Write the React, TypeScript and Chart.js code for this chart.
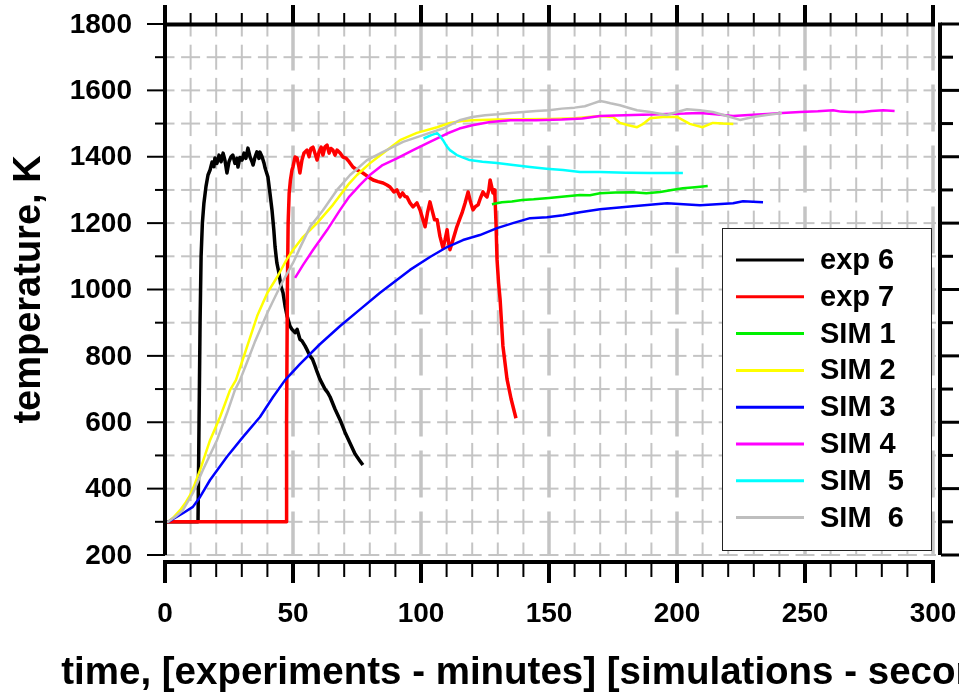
import { useEffect, useRef } from 'react';
import { Chart, registerables } from 'chart.js';

Chart.register(...registerables);

const FONT = '"Liberation Sans", Arial, Helvetica, sans-serif';

// ---------- axis ticks ----------
const xTickValues = [0, 50, 100, 150, 200, 250, 300];
const xTickLabels = ['0', '50', '100', '150', '200', '250', '300'];
const yTickValues = [200, 400, 600, 800, 1000, 1200, 1400, 1600, 1800];
const yTickLabels = ['200', '400', '600', '800', '1000', '1200', '1400', '1600', '1800'];

const xTitle = 'time, [experiments - minutes] [simulations - seconds]';
const yTitle = 'temperature, K';

// ---------- series ----------
const seriesNames = ['exp 6', 'exp 7', 'SIM 1', 'SIM 2', 'SIM 3', 'SIM 4', 'SIM  5', 'SIM  6'];

const exp6Time = [0, 12.9, 13.3, 13.7, 14.1, 14.6, 15.2, 16.0, 16.8, 17.6, 18.4, 19.1, 19.5, 20.3, 21.1, 21.9, 22.7, 23.4, 24.2, 25.0, 25.8, 26.5, 27.3, 28.1, 28.5, 29.3, 30.1, 30.9, 31.6, 32.4, 33.2, 34.0, 34.4, 35.2, 35.9, 36.7, 37.1, 37.9, 38.7, 39.1, 40.2, 41.0, 41.8, 42.5, 43.0, 43.7, 44.5, 45.3, 46.1, 46.9, 47.7, 48.8, 49.6, 50.8, 51.6, 52.7, 53.5, 54.7, 55.7, 56.6, 57.6, 58.6, 59.5, 60.5, 61.5, 62.5, 63.5, 64.5, 66.4, 68.4, 70.3, 72.3, 74.2, 76.0, 77.3];
const exp6Temp = [300, 300, 600, 900, 1100, 1200, 1260, 1310, 1345, 1360, 1384, 1370, 1396, 1380, 1405, 1385, 1411, 1390, 1351, 1385, 1400, 1405, 1380, 1395, 1369, 1398, 1390, 1411, 1395, 1426, 1400, 1385, 1375, 1400, 1415, 1395, 1414, 1400, 1380, 1366, 1339, 1290, 1239, 1180, 1128, 1080, 1050, 1010, 990, 950, 920, 890, 880, 870, 880, 850, 845, 830, 815, 800, 790, 770, 750, 730, 715, 700, 690, 676, 640, 607, 570, 537, 505, 485, 471];

const exp7Time = [0, 47.3, 47.5, 47.8, 48.1, 48.5, 49.0, 49.6, 50.0, 50.8, 51.6, 52.3, 52.7, 53.5, 54.3, 55.5, 56.3, 57.0, 57.8, 58.6, 59.4, 60.2, 61.0, 61.7, 62.5, 63.3, 64.1, 64.8, 65.6, 66.4, 67.2, 68.4, 69.5, 70.7, 71.9, 73.4, 75.0, 77.3, 79.3, 81.3, 83.2, 85.2, 86.7, 87.9, 89.4, 90.6, 91.8, 92.8, 93.75, 94.5, 95.7, 96.9, 98.4, 99.6, 100.6, 101.6, 102.5, 103.5, 104.3, 105.3, 106.3, 107.4, 108.6, 109.4, 110.2, 110.8, 111.3, 112.5, 114.0, 115.0, 116.0, 117.2, 118.4, 119.3, 120.3, 121.3, 122.3, 123.2, 124.2, 125.0, 125.8, 126.5, 127.0, 127.6, 128.1, 128.6, 128.9, 129.3, 129.7, 130.3, 130.9, 132.0, 133.6, 135.2, 137.1];
const exp7Temp = [300, 300, 600, 1000, 1200, 1290, 1330, 1360, 1370, 1399, 1396, 1370, 1351, 1390, 1411, 1420, 1400, 1425, 1429, 1410, 1390, 1415, 1429, 1405, 1430, 1435, 1411, 1425, 1420, 1405, 1420, 1411, 1399, 1396, 1385, 1369, 1360, 1351, 1340, 1330, 1325, 1321, 1315, 1309, 1294, 1300, 1279, 1291, 1280, 1279, 1261, 1249, 1261, 1240, 1215, 1189, 1230, 1264, 1240, 1210, 1210, 1160, 1125, 1150, 1180, 1140, 1120, 1150, 1189, 1210, 1230, 1260, 1294, 1265, 1240, 1250, 1255, 1275, 1294, 1285, 1279, 1300, 1330, 1310, 1291, 1300, 1280, 1200, 1090, 1020, 970, 830, 730, 670, 612];

const sim1Time = [127.7, 131.6, 135.5, 139.5, 144, 150, 156, 162.1, 166, 169.9, 176, 182.8, 188, 193.4, 198, 202.3, 207, 212];
const sim1Temp = [1257, 1263, 1265, 1270, 1272, 1276, 1280, 1285, 1284, 1290, 1292, 1293, 1290, 1294, 1300, 1305, 1308, 1312];

const sim2Time = [0, 1.2, 3.5, 5.9, 7.8, 9.8, 11.7, 13.7, 15.6, 17.6, 19.5, 21.5, 23.4, 25.4, 27.7, 30, 33, 36, 40, 44, 47.5, 50, 53.9, 59.4, 65.6, 69, 72, 75, 80, 85, 91.8, 98.4, 106.3, 111.3, 116, 120, 130, 140, 150, 160, 169.9, 175, 177.7, 181, 184.4, 187, 189.5, 194.5, 200, 205, 210, 214, 218, 222];
const sim2Temp = [300, 300, 315, 335, 355, 380, 415, 456, 500, 546, 580, 616, 655, 697, 727, 780, 850, 920, 990, 1040, 1090, 1119, 1158, 1200, 1255, 1290, 1320, 1345, 1380, 1410, 1450, 1472, 1489, 1502, 1508, 1510, 1512, 1513, 1514, 1516, 1523, 1520, 1502, 1495, 1489, 1500, 1516, 1520, 1520, 1499, 1489, 1502, 1500, 1499];

const sim3Time = [0, 1.2, 7.0, 10.9, 13.7, 17.6, 24.2, 30.5, 37.1, 42.2, 46.9, 52.7, 60.5, 68.4, 76.2, 84.0, 95.7, 103.5, 110.2, 116.4, 123.0, 129.7, 135.9, 142.6, 149.2, 155.5, 162.1, 169.9, 182.8, 196.1, 209, 221.9, 225.8, 233.6];
const sim3Temp = [300, 300, 326, 345, 375, 426, 496, 556, 616, 676, 727, 775, 835, 890, 940, 990, 1059, 1098, 1128, 1149, 1164, 1185, 1200, 1215, 1218, 1224, 1233, 1242, 1251, 1260, 1254, 1260, 1266, 1263];

const sim4Time = [50.8, 54, 57.8, 63.3, 68.4, 72, 76.2, 80, 85, 90.6, 96.9, 103.5, 110.2, 115, 120, 127, 135, 145, 155, 163, 169.9, 176, 182.8, 190, 196.1, 203, 209, 215, 221.9, 228, 235.2, 241, 248, 255, 261, 264, 267.6, 272.7, 276, 280.5, 285];
const sim4Temp = [1035, 1075, 1119, 1179, 1240, 1280, 1315, 1345, 1375, 1395, 1420, 1445, 1470, 1485, 1495, 1505, 1510, 1510, 1512, 1515, 1523, 1524, 1526, 1527, 1529, 1530, 1532, 1528, 1523, 1526, 1529, 1532, 1535, 1537, 1540, 1536, 1535, 1535, 1538, 1540, 1538];

const sim5Time = [101, 104, 106.3, 107.5, 108.6, 110, 111.3, 114, 119, 124, 129.7, 136, 142.6, 149, 155.5, 162.1, 169.9, 180, 189.5, 196, 202.3];
const sim5Temp = [1455, 1465, 1471, 1462, 1450, 1432, 1420, 1405, 1390, 1385, 1381, 1375, 1369, 1364, 1360, 1354, 1354, 1352, 1351, 1351, 1351];

const sim6Time = [0, 1.2, 4, 7, 10.9, 14.8, 20.3, 24.2, 27.3, 29.3, 32, 35, 40, 45, 50, 53, 56.6, 61.7, 67.2, 72.3, 78.9, 85.2, 93, 100.8, 108.6, 115, 120, 125, 130, 135, 140, 145, 150, 155, 160, 164, 167, 170, 172, 174, 177.7, 181.6, 184.4, 189.5, 196, 200, 203.9, 209, 214, 219.5, 224.6, 229.7, 235, 241];
const sim6Temp = [300, 300, 315, 335, 387, 456, 546, 627, 697, 727, 780, 840, 930, 1010, 1080, 1130, 1188, 1239, 1300, 1345, 1390, 1415, 1445, 1465, 1485, 1510, 1520, 1525, 1528, 1532, 1535, 1538, 1540, 1545, 1548, 1552, 1560, 1568, 1565, 1561, 1555, 1546, 1540, 1535, 1526, 1535, 1543, 1540, 1535, 1523, 1511, 1520, 1526, 1532];

const seriesColors = ['#000000', '#ff0000', '#00f000', '#ffff00', '#0000ff', '#ff00ff', '#00ffff', '#bebebe'];
const seriesWidths = [3.5, 3.5, 2.5, 2.5, 2.5, 2.5, 2.5, 2.5];

const allTimes = [exp6Time, exp7Time, sim1Time, sim2Time, sim3Time, sim4Time, sim5Time, sim6Time];
const allTemps = [exp6Temp, exp7Temp, sim1Temp, sim2Temp, sim3Temp, sim4Temp, sim5Temp, sim6Temp];

const zip = (t: number[], v: number[]) => t.map((x, i) => ({ x, y: v[i] }));

// ---------- custom drawing: grid, offset frame, tick labels, titles, legend ----------
const GRID = '#c4c4c4';

const framePlugin = {
  id: 'frame',
  beforeDatasetsDraw(chart: any) {
    const { ctx, chartArea, scales } = chart;
    const { left, right, top, bottom } = chartArea;
    const xs = scales.x;
    const ys = scales.y;
    ctx.save();
    ctx.beginPath();
    ctx.rect(left, top, right - left + 3, bottom - top + 1);
    ctx.clip();
    ctx.strokeStyle = GRID;
    ctx.lineCap = 'butt';
    ctx.lineWidth = 2;
    for (let h = ys.min; h < ys.max; h += 100) {
      const yc = ys.getPixelForValue(h);
      for (let v = xs.min; v <= xs.max; v += 10) {
        const xc = xs.getPixelForValue(v);
        ctx.beginPath();
        ctx.moveTo(xc - 9.5, yc);
        ctx.lineTo(xc + 9.5, yc);
        ctx.stroke();
      }
    }
    for (let v = xs.min + 10; v < xs.max; v += 10) {
      if (v % 50 === 0) continue;
      const xc = xs.getPixelForValue(v);
      for (let h = ys.min; h <= ys.max; h += 100) {
        const yc = ys.getPixelForValue(h);
        ctx.beginPath();
        ctx.moveTo(xc, yc - 12.5);
        ctx.lineTo(xc, yc + 12.5);
        ctx.stroke();
      }
    }
    ctx.lineWidth = 3.5;
    ctx.setLineDash([47, 14]);
    for (let v = xs.min + 50; v <= xs.max; v += 50) {
      const xc = xs.getPixelForValue(v);
      ctx.beginPath();
      ctx.moveTo(xc, top - 0.5);
      ctx.lineTo(xc, bottom);
      ctx.stroke();
    }
    ctx.restore();
  },
  afterDatasetsDraw(chart: any) {
    const { ctx, chartArea, scales } = chart;
    const { left, right, top, bottom } = chartArea;
    const xs = scales.x;
    const ys = scales.y;
    ctx.save();
    ctx.fillStyle = '#000';
    ctx.fillRect(left - 2, top - 1.5, 4, bottom - top + 1.5);
    ctx.fillRect(left - 2, top - 1.5, right - left + 4, 4);
    ctx.fillRect(right + 5, top - 1.5, 4, bottom - top + 1.5);
    ctx.fillRect(left - 2, bottom + 5, right - left + 4, 4);
    for (let v = xs.min; v <= xs.max; v += 10) {
      const xc = xs.getPixelForValue(v);
      if (v % 50 === 0) {
        ctx.fillRect(xc - 2, top - 19, 4, 19);
        ctx.fillRect(xc - 2, bottom + 8, 4, 20);
      } else {
        ctx.fillRect(xc - 1, top - 11, 2, 11);
        ctx.fillRect(xc - 1, bottom + 8, 2, 14);
      }
    }
    for (let h = ys.min; h <= ys.max; h += 100) {
      const yc = ys.getPixelForValue(h);
      if (h % 200 === 0) {
        ctx.fillRect(left - 18, yc - 1, 18, 2);
        ctx.fillRect(right + 8, yc - 1.5, 20, 3);
      } else {
        ctx.fillRect(left - 10, yc - 1, 10, 2);
        ctx.fillRect(right + 8, yc - 1.5, 12, 3);
      }
    }
    // tick labels
    ctx.font = `bold 28px ${FONT}`;
    ctx.textBaseline = 'middle';
    ctx.textAlign = 'right';
    yTickValues.forEach((v, i) => {
      ctx.fillText(yTickLabels[i], left - 33, ys.getPixelForValue(v) + 1);
    });
    ctx.textAlign = 'center';
    xTickValues.forEach((v, i) => {
      ctx.fillText(xTickLabels[i], xs.getPixelForValue(v), bottom + 59);
    });
    // axis titles
    ctx.font = `bold 38.5px ${FONT}`;
    ctx.textAlign = 'center';
    ctx.fillText(xTitle, (left + right) / 2, 673);
    ctx.save();
    ctx.translate(30, (top + bottom) / 2);
    ctx.rotate(-Math.PI / 2);
    ctx.font = `bold 38px ${FONT}`;
    ctx.fillText(yTitle, 0, 0);
    ctx.restore();

    // legend box
    const bx = 722, by = 228, bw = 209, bh = 322;
    ctx.fillStyle = '#fff';
    ctx.fillRect(bx, by, bw, bh);
    ctx.strokeStyle = '#222';
    ctx.lineWidth = 1;
    ctx.strokeRect(bx + 0.5, by + 0.5, bw, bh);
    ctx.font = `bold 29px ${FONT}`;
    ctx.textAlign = 'left';
    ctx.textBaseline = 'middle';
    chart.data.datasets.forEach((ds: any, i: number) => {
      const ly = 260 + i * 36.8;
      ctx.strokeStyle = ds.borderColor;
      ctx.lineWidth = 3;
      ctx.beginPath();
      ctx.moveTo(736, ly);
      ctx.lineTo(804, ly);
      ctx.stroke();
      ctx.fillStyle = '#000';
      ctx.fillText(ds.label, 820, ly + 1);
    });
    ctx.restore();
  },
};

export default function App() {
  const ref = useRef<HTMLCanvasElement>(null);
  useEffect(() => {
    const datasets = seriesNames.map((name, i) => ({
      label: name,
      data: zip(allTimes[i], allTemps[i]),
      borderColor: seriesColors[i],
      backgroundColor: seriesColors[i],
      borderWidth: seriesWidths[i],
      pointRadius: 0,
      tension: 0,
      fill: false,
      order: seriesNames.length - i,
      borderJoinStyle: 'round' as const,
    }));
    const chart = new Chart(ref.current as HTMLCanvasElement, {
      type: 'line',
      data: { datasets },
      options: {
        responsive: false,
        animation: false,
        layout: { padding: { top: 24, right: 26, left: 165, bottom: 143 } },
        plugins: { legend: { display: false }, tooltip: { enabled: false } },
        scales: {
          x: { type: 'linear', min: 0, max: 300, display: false },
          y: { type: 'linear', min: 200, max: 1800, display: false },
        },
      },
      plugins: [framePlugin],
    } as any);
    return () => chart.destroy();
  }, []);
  return (
    <div style={{ position: 'fixed', left: 0, top: 0, width: 959, height: 698, background: '#fff' }}>
      <canvas ref={ref} width={959} height={698} style={{ display: 'block' }} />
    </div>
  );
}
